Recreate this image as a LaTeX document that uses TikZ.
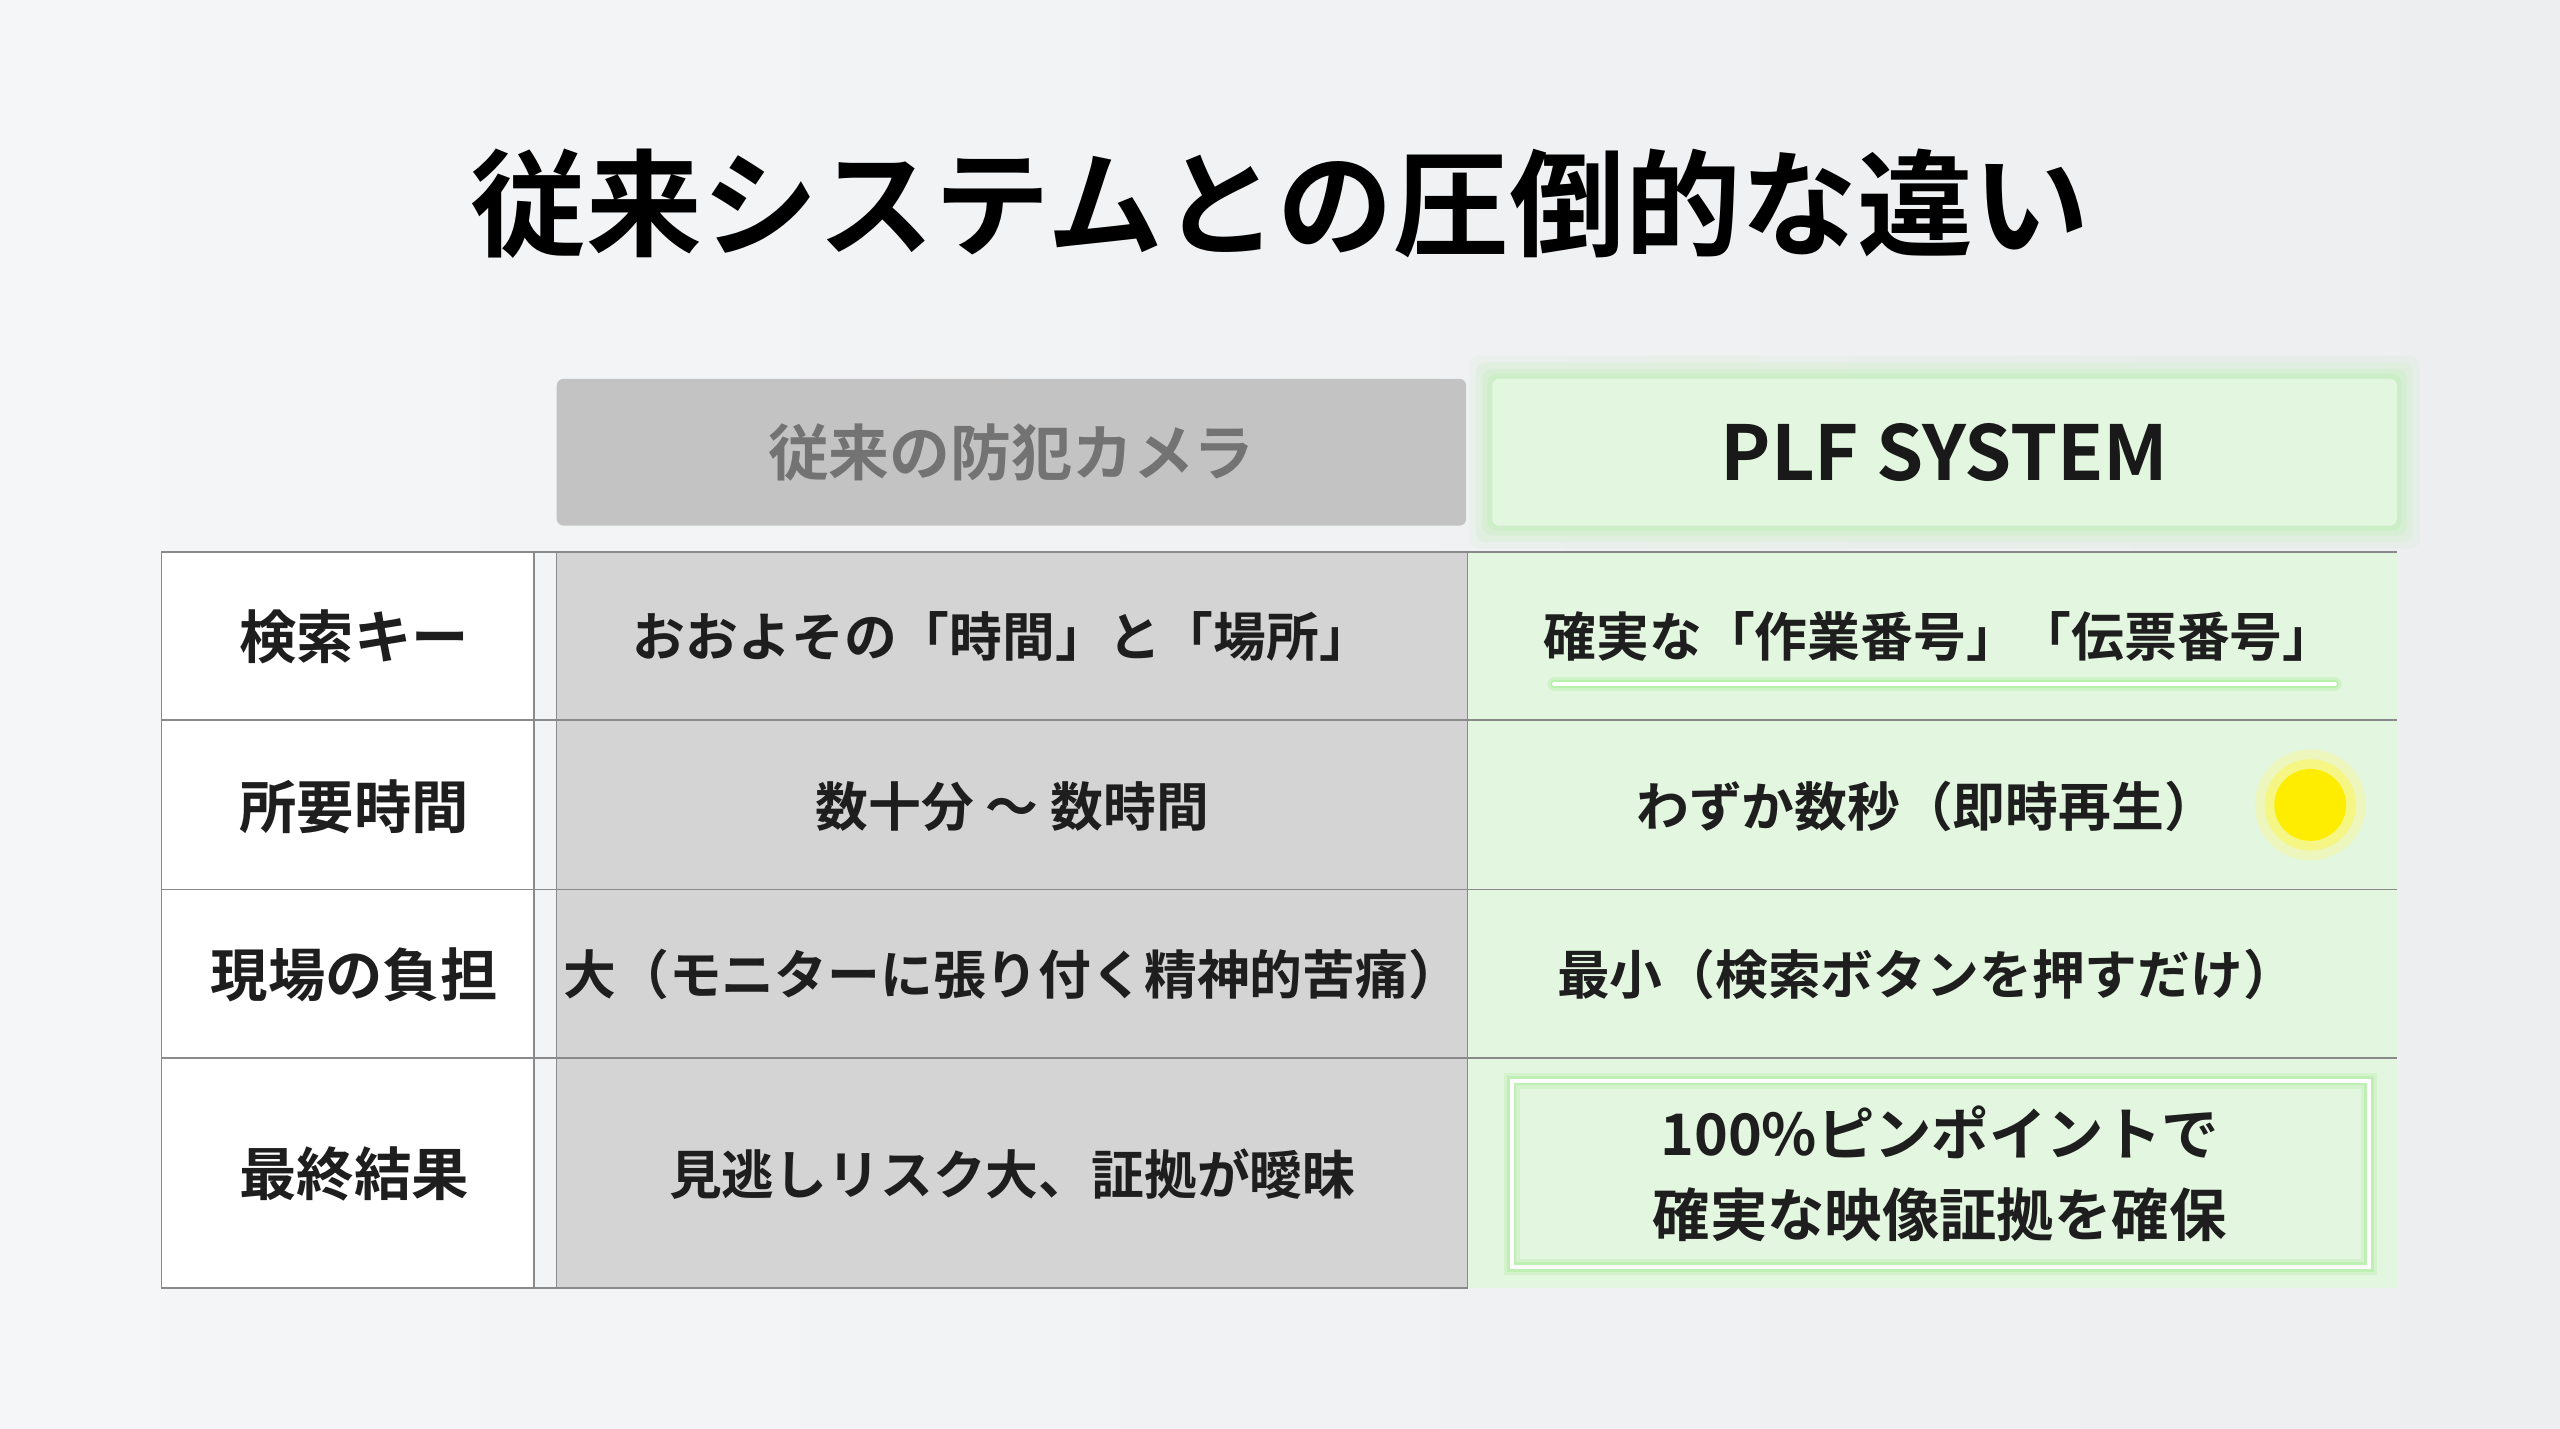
\documentclass[tikz,border=0pt]{standalone}
\usepackage{fontspec}
\newfontfamily\jpb{Noto Sans CJK JP Bold}
\definecolor{bgl}{HTML}{F5F6F7}
\definecolor{bgr}{HTML}{ECEEF0}
\definecolor{grayfill}{HTML}{D4D4D4}
\definecolor{hdrgray}{HTML}{C3C3C3}
\definecolor{greenfill}{HTML}{E3F6DF}
\definecolor{greenglow}{HTML}{A8EE98}
\definecolor{linec}{HTML}{8A8A8A}
\definecolor{txt}{HTML}{1E1E1E}
\tikzset{
 cell/.style={draw=linec,line width=1.2pt},
 ctext/.style={font=\jpb\fontsize{46}{58}\selectfont,text=txt,align=center},
 ltext/.style={font=\jpb\fontsize{50}{60}\selectfont,text=txt,align=center},
 hdr/.style={rounded corners=6pt},
}
\begin{document}
\begin{tikzpicture}[x=0.05cm,y=-0.05cm]
\useasboundingbox (0,0) rectangle (1568,875);
\shade[left color=bgl,right color=bgr] (0,0) rectangle (1568,875);
% title
\node[font=\jpb\fontsize{101}{116}\selectfont,text=black] (title) at (784,125) {従来システムとの圧倒的な違い};
% headers
\fill[hdrgray,hdr] (341,232) rectangle (898,322);
\node[ctext,text=black!55,font=\jpb\fontsize{53}{64}\selectfont] (h1) at (619.5,277) {従来の防犯カメラ};
\foreach \d/\o in {14/0.08,10/0.12,6/0.16,3/0.2}{
 \fill[greenglow,opacity=\o,rounded corners=8pt] (914-\d,232-\d) rectangle (1468+\d,322+\d);}
\fill[greenfill,hdr] (914,232) rectangle (1468,322);
\node[ctext,font=\jpb\fontsize{66}{76}\selectfont,text=black!90] (h2) at (1191,277) {PLF SYSTEM};
% columns
\fill[white] (99,338) rectangle (327,789);
\fill[grayfill] (341,338) rectangle (899,789);
\fill[greenfill] (899,338) rectangle (1468,789);
% lines
\draw[cell] (99,338) rectangle (327,789);
\draw[cell] (327,338) -- (1468,338);
\draw[cell] (341,338) -- (341,789) -- (899,789);
\draw[cell] (327,789) -- (341,789);
\draw[cell] (899,338) -- (899,789);
\foreach \yy in {441,545,648}{\draw[cell] (99,\yy) -- (1468,\yy);}
% row labels
\node[ltext] (l1) at (217,390) {検索キー};
\node[ltext] (l2) at (217,494) {所要時間};
\node[ltext] (l3) at (217,597) {現場の負担};
\node[ltext] (l4) at (217,719) {最終結果};
% gray column
\node[ctext] (a1) at (614,390) {おおよその「時間」と「場所」};
\node[ctext] (a2) at (620,494) {数十分 〜 数時間};
\node[ctext] (a3) at (620,597) {大（モニターに張り付く精神的苦痛）};
\node[ctext] (a4) at (620,719) {見逃しリスク大、証拠が曖昧};
% green column
\node[ctext] (b1) at (1188,390) {確実な「作業番号」「伝票番号」};
\draw[greenglow,line width=12pt,line cap=round,opacity=0.35] (952,419) -- (1430,419);
\draw[greenglow,line width=7pt,line cap=round,opacity=0.6] (952,419) -- (1430,419);
\draw[white,line width=4pt,line cap=round] (952,419) -- (1430,419);
\node[ctext] (b2) at (1180,494) {わずか数秒（即時再生）};
\fill[yellow!50,opacity=0.35] (1415,493) circle (34);
\fill[yellow!70,opacity=0.5] (1415,493) circle (28);
\fill[yellow!95!orange] (1415,493) circle (22);
\node[ctext] (b3) at (1180,597) {最小（検索ボタンを押すだけ）};
\draw[greenglow,line width=14pt,opacity=0.25] (926,662) rectangle (1451,776);
\draw[greenglow,line width=8pt,opacity=0.5] (926,662) rectangle (1451,776);
\draw[white,line width=3.5pt] (926,662) rectangle (1451,776);
\node[ctext,font=\jpb\fontsize{50}{70}\selectfont] (b4) at (1188,719) {100\%ピンポイントで\\確実な映像証拠を確保};
\end{tikzpicture}
\end{document}
